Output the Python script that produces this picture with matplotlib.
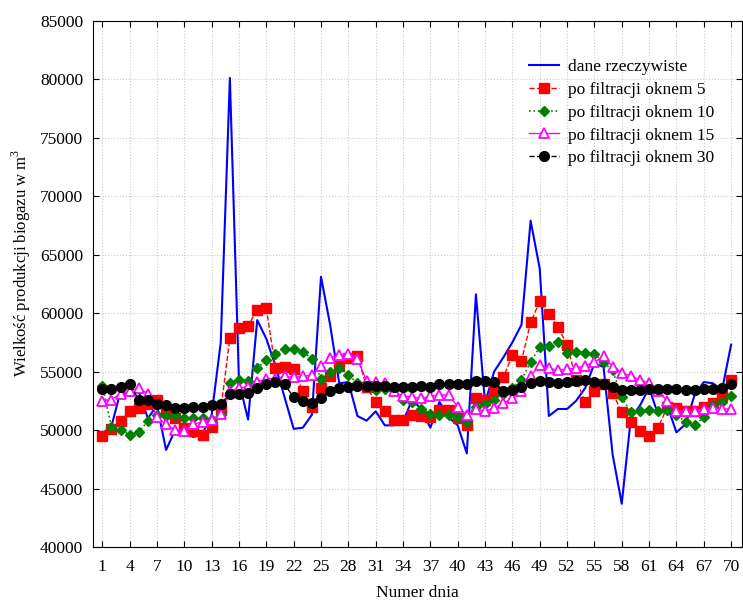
import numpy as np
import matplotlib
matplotlib.use("Agg")
import matplotlib.pyplot as plt

plt.rcParams['font.family'] = 'serif'
plt.rcParams['font.serif'] = ['Liberation Serif', 'DejaVu Serif']
plt.rcParams['mathtext.fontset'] = 'custom'
plt.rcParams['mathtext.rm'] = 'Liberation Serif'

# dni pomiarowe
dni = np.arange(1, 71)

# dane rzeczywiste
dane = [49700, 50300, 53300, 52900, 53300, 51000, 52100, 48300, 50000, 49800,
        49400, 49700, 51300, 57500, 80100, 54100, 50900, 59400, 57800, 55500,
        52800, 50100, 50200, 51300, 63100, 59000, 54000, 54100, 51200, 50800,
        51600, 50400, 50400, 50700, 52600, 51800, 50200, 52400, 51100, 50400,
        48000, 61600, 52300, 55000, 56200, 57500, 59000, 67900, 63800, 51200,
        51800, 51800, 52500, 53600, 55700, 55400, 47900, 43700, 51000, 52100,
        53600, 51300, 52100, 49800, 50500, 53000, 54100, 54000, 53400, 57300]

okno5 = [49500, 50100, 50800, 51600, 51900, 52200, 52600, 51600, 51000, 50200,
         49900, 49600, 50300, 51700, 57900, 58700, 58900, 60300, 60400, 55300,
         55400, 55200, 53300, 52000, 53600, 54600, 55500, 56200, 56300, 53700,
         52400, 51600, 50900, 50900, 51300, 51200, 51100, 51700, 51700, 51000,
         50400, 52700, 52600, 53300, 54500, 56400, 55900, 59200, 61000, 59900,
         58800, 57300, 54300, 52400, 53300, 53900, 53200, 51500, 50700, 49900,
         49500, 50200, 52000, 51900, 51600, 51600, 52000, 52300, 52900, 54300]

okno10 = [53800, 50300, 50000, 49600, 49800, 50800, 51300, 51200, 51300, 51000,
          51000, 51000, 50900, 51400, 54000, 54300, 54200, 55300, 56000, 56500,
          56900, 56900, 56700, 56100, 54400, 55000, 55300, 54700, 54000, 53800,
          53400, 53500, 53400, 52600, 52400, 51800, 51400, 51300, 51300, 51100,
          50700, 52000, 52200, 52600, 53100, 53600, 54300, 55800, 57100, 57200,
          57500, 56600, 56700, 56600, 56500, 55800, 55100, 52800, 51500, 51600,
          51700, 51600, 51700, 51300, 50700, 50400, 51100, 52100, 52400, 52900]

okno15 = [52500, 52600, 53100, 53300, 53600, 53100, 51100, 50500, 50000, 49900,
          50500, 50700, 50900, 51400, 53300, 53600, 53700, 54100, 54400, 54400,
          54600, 54500, 54600, 54700, 55500, 56200, 56400, 56500, 56100, 54200,
          54100, 54000, 53300, 52900, 52800, 52700, 52900, 53000, 53000, 52000,
          51300, 51800, 51600, 51900, 52300, 52700, 53300, 54600, 55600, 55300,
          55100, 55200, 55300, 55500, 55800, 56300, 55400, 54900, 54600, 54300,
          54000, 53300, 52500, 51600, 51600, 51600, 51800, 51900, 51800, 51800]

okno30 = [53500, 53500, 53700, 53900, 52600, 52600, 52200, 52100, 51900, 51900,
          52000, 52000, 52100, 52200, 53100, 53100, 53200, 53600, 53900, 54100,
          53900, 52800, 52500, 52300, 52700, 53300, 53600, 53700, 53800, 53800,
          53800, 53800, 53700, 53700, 53700, 53800, 53700, 53900, 53900, 53900,
          53900, 54200, 54200, 54100, 53300, 53400, 53700, 54000, 54200, 54100,
          54000, 54100, 54200, 54300, 54100, 53900, 53700, 53400, 53400, 53400,
          53500, 53500, 53500, 53500, 53400, 53400, 53500, 53500, 53600, 53900]

fig = plt.figure(figsize=(7.43, 6.03), dpi=100)
ax = fig.add_axes([0.1248, 0.0929, 0.8739, 0.8728])

ax.plot(dni, dane, color='#0000FF', lw=1.5, label='dane rzeczywiste')
ax.plot(dni, okno5, color='red', ls='--', lw=1, marker='s', ms=6.5,
        label='po filtracji oknem 5')
ax.plot(dni, okno10, color='#008000', ls=':', lw=1.2, marker='D', ms=4.8,
        label='po filtracji oknem 10')
ax.plot(dni, okno15, color='#FF00FF', ls='-', lw=1, marker='^', ms=6.5,
        mfc='white', mew=1.3, label='po filtracji oknem 15')
ax.plot(dni, okno30, color='black', ls='--', lw=1, marker='o', ms=7,
        label='po filtracji oknem 30')

ax.set_xlim(-0.05, 71.2)
ax.set_ylim(40000, 85000)
ax.set_xticks(np.arange(1, 71, 3))
ax.set_yticks(np.arange(40000, 85001, 5000))
ax.ticklabel_format(axis='y', style='plain', useOffset=False)
ax.tick_params(direction='in', top=True, right=True, labelsize=12.5, length=4)
ax.tick_params(axis='y', pad=7)
ax.tick_params(axis='x', pad=9)
ax.grid(True, ls=':', color='#cccccc', lw=0.8)
ax.set_axisbelow(True)

ax.set_xlabel('Numer dnia', fontsize=12.5, labelpad=7)
ax.set_ylabel('Wielkość produkcji biogazu w m$^3$', fontsize=12)
ax.yaxis.set_label_coords(-0.092, 0.54)

ax.legend(loc='upper left', bbox_to_anchor=(0.672, 0.927), frameon=False,
          fontsize=12.5, handlelength=1.75, handletextpad=0.5,
          labelspacing=0.38, borderpad=0, borderaxespad=0)

fig.savefig('out.png', dpi=100)
